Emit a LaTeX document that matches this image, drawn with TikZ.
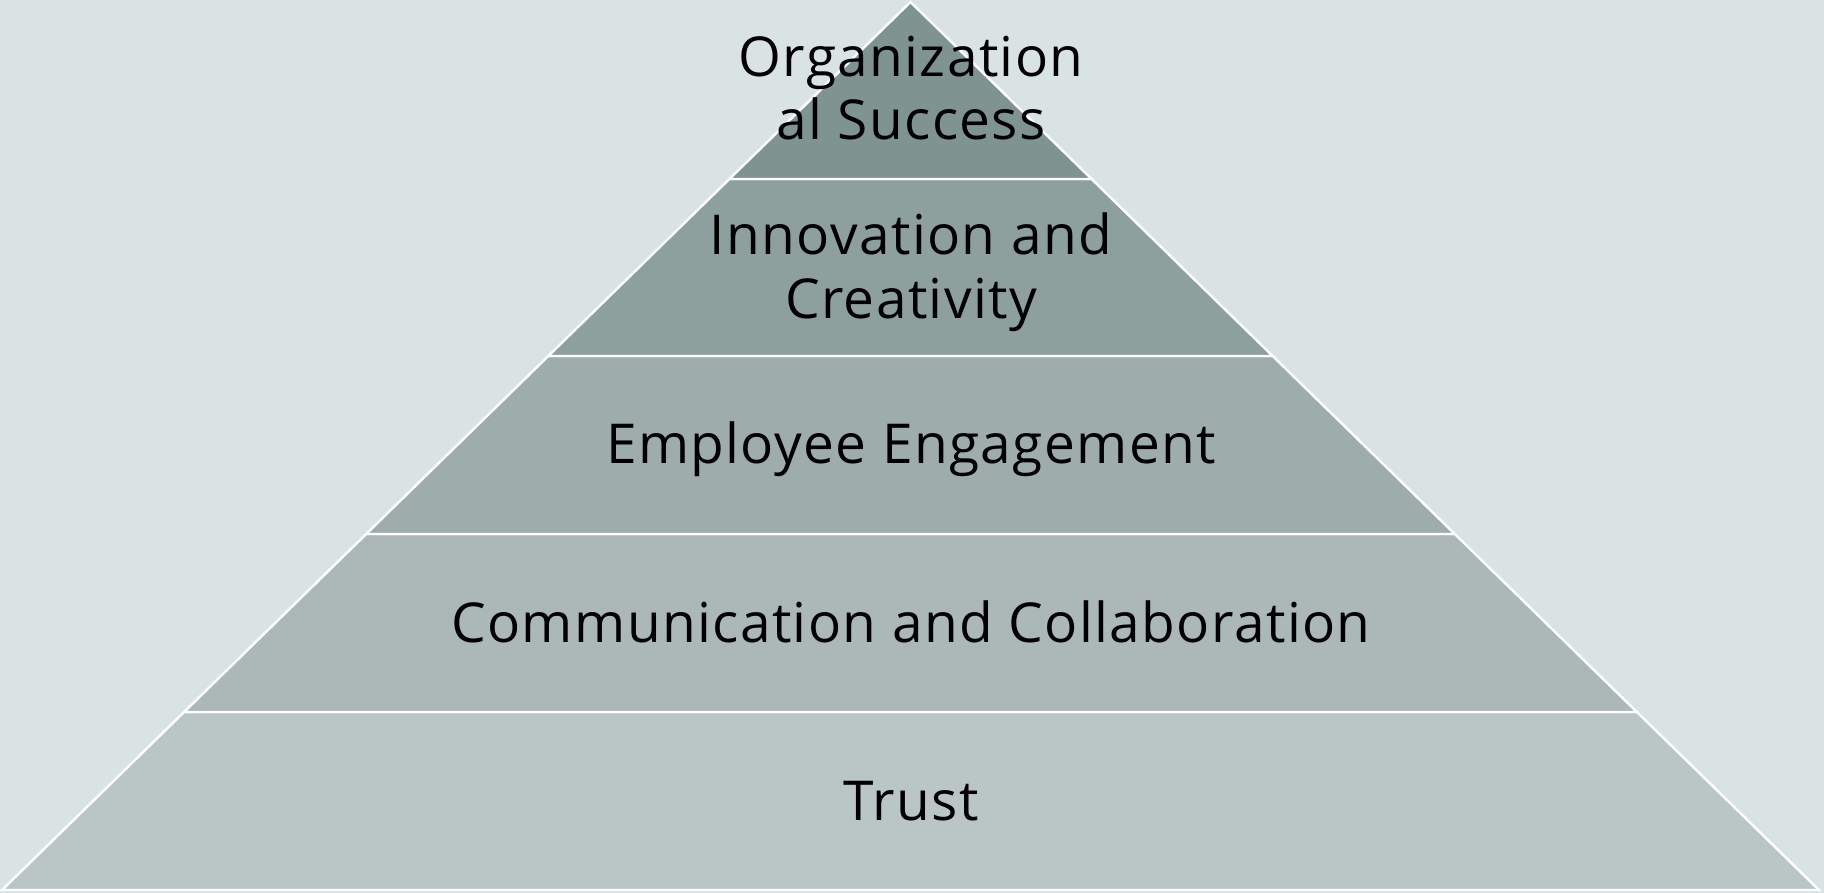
\documentclass[tikz,border=0pt]{standalone}
\usepackage{fontspec}
\setmainfont{Open Sans}[LetterSpace=2.5]
\usetikzlibrary{calc}
\definecolor{bgcol}{HTML}{DAE3E4}
\definecolor{layerA}{HTML}{7F9490}
\definecolor{layerB}{HTML}{8DA09D}
\definecolor{layerC}{HTML}{9EADAB}
\definecolor{layerD}{HTML}{ACB8B7}
\definecolor{layerE}{HTML}{BAC6C5}
\tikzset{
  layer/.style={draw=white, line width=2.4pt, line join=miter},
  label/.style={font=\fontsize{55}{64}\selectfont, text=black, anchor=base, inner sep=0pt}
}
\begin{document}
\begin{tikzpicture}[x=1pt,y=-1pt]
  \fill[bgcol] (0,0) rectangle (1824,893);
  \useasboundingbox (0,0) rectangle (1824,893);
  \coordinate (apex) at (910.5,2);
  \coordinate (bl) at (2,890);
  \coordinate (br) at (1819,890);
  % points along the two sides at each layer boundary
  \foreach \n/\y in {1/179,2/356,3/534,4/712}{
    \pgfmathsetmacro{\t}{(\y-2)/888}
    \coordinate (l\n) at ($(apex)!\t!(bl)$);
    \coordinate (r\n) at ($(apex)!\t!(br)$);
  }
  \draw[layer, fill=layerE] (l4) -- (r4) -- (br) -- (bl) -- cycle;
  \draw[layer, fill=layerD] (l3) -- (r3) -- (r4) -- (l4) -- cycle;
  \draw[layer, fill=layerC] (l2) -- (r2) -- (r3) -- (l3) -- cycle;
  \draw[layer, fill=layerB] (l1) -- (r1) -- (r2) -- (l2) -- cycle;
  \draw[layer, fill=layerA] (apex) -- (r1) -- (l1) -- cycle;

  \node[label] (org1) at (911,77) {Organization};
  \node[label] (org2) at (911,140) {al Success};
  \node[label] (inn1) at (911,255) {Innovation and};
  \node[label] (inn2) at (911,319) {Creativity};
  \node[label] (emp) at (911,463) {Employee Engagement};
  \node[label] (com) at (911,642) {Communication and Collaboration};
  \node[label] (tru) at (911,820) {Trust};
\end{tikzpicture}
\end{document}
